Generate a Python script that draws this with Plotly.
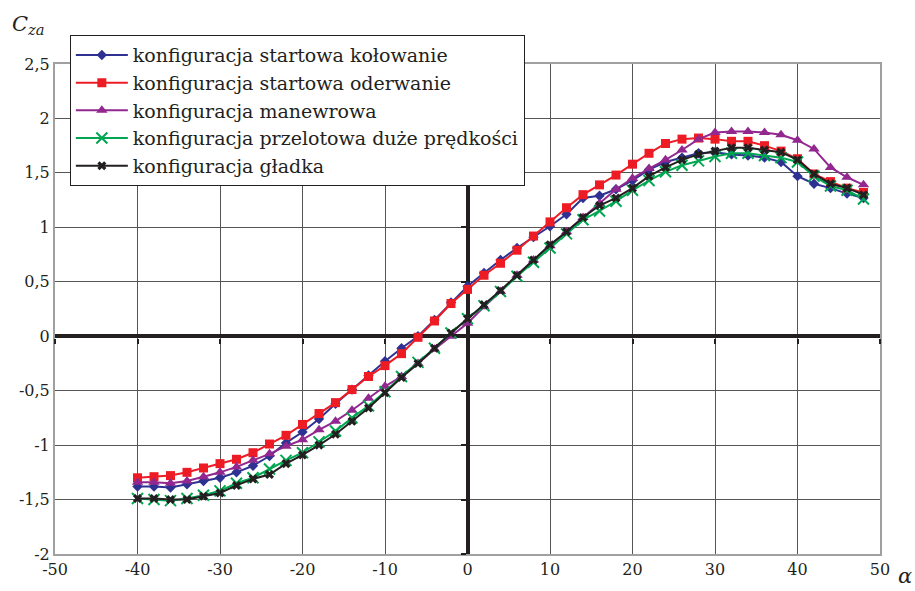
import plotly.graph_objects as go

alpha = list(range(-40, 50, 2))

kolowanie = [-1.38, -1.38, -1.39, -1.36, -1.33, -1.30, -1.25, -1.19, -1.10, -0.98,
             -0.88, -0.76, -0.62, -0.49, -0.36, -0.23, -0.11, 0.00, 0.15, 0.31,
             0.46, 0.58, 0.70, 0.81, 0.91, 1.01, 1.12, 1.27, 1.29, 1.35,
             1.43, 1.53, 1.60, 1.64, 1.68, 1.69, 1.67, 1.66, 1.64, 1.60,
             1.47, 1.40, 1.36, 1.31, 1.27]
oderwanie = [-1.30, -1.29, -1.28, -1.25, -1.21, -1.17, -1.13, -1.07, -0.99, -0.91,
             -0.81, -0.71, -0.61, -0.49, -0.37, -0.27, -0.16, -0.01, 0.14, 0.30,
             0.43, 0.56, 0.67, 0.79, 0.92, 1.05, 1.18, 1.30, 1.39, 1.48,
             1.58, 1.68, 1.77, 1.81, 1.82, 1.81, 1.79, 1.79, 1.75, 1.70,
             1.63, 1.49, 1.42, 1.36, 1.32]
manewrowa = [-1.34, -1.34, -1.35, -1.33, -1.29, -1.25, -1.20, -1.14, -1.08, -1.01,
             -0.95, -0.86, -0.78, -0.68, -0.57, -0.46, -0.37, -0.25, -0.12, 0.00,
             0.12, 0.27, 0.41, 0.56, 0.70, 0.83, 0.96, 1.09, 1.22, 1.35,
             1.45, 1.54, 1.62, 1.71, 1.81, 1.87, 1.88, 1.88, 1.87, 1.85,
             1.80, 1.72, 1.55, 1.46, 1.39]
przelotowa = [-1.49, -1.50, -1.51, -1.49, -1.46, -1.42, -1.35, -1.30, -1.22, -1.14,
              -1.07, -0.97, -0.87, -0.75, -0.64, -0.51, -0.37, -0.24, -0.11, 0.03,
              0.16, 0.28, 0.41, 0.55, 0.68, 0.81, 0.94, 1.07, 1.15, 1.24,
              1.34, 1.43, 1.51, 1.57, 1.61, 1.65, 1.68, 1.68, 1.66, 1.64,
              1.60, 1.47, 1.38, 1.34, 1.26]
gladka = [-1.49, -1.49, -1.50, -1.50, -1.47, -1.44, -1.37, -1.31, -1.27, -1.17,
          -1.09, -1.00, -0.90, -0.78, -0.66, -0.52, -0.38, -0.25, -0.11, 0.03,
          0.16, 0.29, 0.42, 0.56, 0.70, 0.84, 0.96, 1.09, 1.20, 1.27,
          1.36, 1.47, 1.55, 1.62, 1.67, 1.70, 1.73, 1.73, 1.71, 1.69,
          1.62, 1.49, 1.40, 1.36, 1.30]

series_names = ["konfiguracja startowa kołowanie", "konfiguracja startowa oderwanie",
                "konfiguracja manewrowa", "konfiguracja przelotowa duże prędkości",
                "konfiguracja gładka"]

x_ticks = [-50, -40, -30, -20, -10, 0, 10, 20, 30, 40, 50]
y_ticks = [-2, -1.5, -1, -0.5, 0, 0.5, 1, 1.5, 2, 2.5]
y_tick_labels = ["-2", "-1,5", "-1", "-0,5", "0", "0,5", "1", "1,5", "2", "2,5"]

FONT = "DejaVu Serif"

fig = go.Figure()
styles = [
    ("#2e3192", dict(symbol="diamond", size=8)),
    ("#ed1c24", dict(symbol="square", size=9)),
    ("#92278f", dict(symbol="triangle-up", size=10)),
    ("#00a651", dict(symbol="x-thin-open", size=11, line=dict(width=2, color="#00a651"))),
    ("#231f20", dict(symbol="x", size=8)),
]
for name, ys, (col, mk) in zip(series_names, [kolowanie, oderwanie, manewrowa, przelotowa, gladka], styles):
    fig.add_trace(go.Scatter(x=alpha, y=ys, name=name, mode="lines+markers",
                             line=dict(color=col, width=2),
                             marker=dict(color=col, **mk)))

# dummy trace for tick axes at zero
fig.add_trace(go.Scatter(x=[None], y=[None], xaxis="x2", yaxis="y2", showlegend=False, hoverinfo="skip"))

fig.update_layout(
    width=915, height=591,
    margin=dict(l=55, r=35, t=64, b=33),
    paper_bgcolor="white", plot_bgcolor="white",
    font=dict(family=FONT, size=16, color="#231f20"),
    showlegend=True,
    legend=dict(x=0.018, y=1.059, xanchor="left", yanchor="top",
                bgcolor="white", bordercolor="#231f20", borderwidth=1,
                font=dict(family=FONT, size=19, color="#231f20"),
                itemwidth=52, tracegroupgap=0),
    xaxis=dict(range=[-50, 50], tickvals=x_ticks, ticktext=[str(v) for v in x_ticks],
               showgrid=True, gridcolor="#555", gridwidth=1,
               zeroline=True, zerolinecolor="#231f20", zerolinewidth=4,
               showline=True, mirror=True, linecolor="#a0a0a0", linewidth=2,
               ticks="", tickfont=dict(family=FONT, size=16)),
    yaxis=dict(range=[-2, 2.5], tickvals=y_ticks, ticktext=y_tick_labels,
               showgrid=True, gridcolor="#555", gridwidth=1,
               zeroline=True, zerolinecolor="#231f20", zerolinewidth=4,
               showline=True, mirror=True, linecolor="#a0a0a0", linewidth=2,
               ticks="", tickfont=dict(family=FONT, size=16)),
    xaxis2=dict(range=[-50, 50], overlaying="x", anchor="free", position=(0 - (-2)) / 4.5 - 0.004,
                tickvals=x_ticks, ticks="outside", ticklen=5, tickwidth=2, tickcolor="#231f20",
                showticklabels=False, showgrid=False, zeroline=False, showline=False),
    yaxis2=dict(range=[-2, 2.5], overlaying="y", anchor="free", position=0.5 - 0.002,
                tickvals=y_ticks, ticks="outside", ticklen=5, tickwidth=2, tickcolor="#231f20",
                showticklabels=False, showgrid=False, zeroline=False, showline=False),
    annotations=[
        dict(text="<i>C</i><sub><i>za</i></sub>", xref="paper", yref="paper",
             x=-0.055, y=1.079, xanchor="left", yanchor="middle", showarrow=False,
             font=dict(family=FONT, size=21, color="#231f20")),
        dict(text="<i>α</i>", xref="paper", yref="paper",
             x=1.030, y=-0.044, xanchor="center", yanchor="middle", showarrow=False,
             font=dict(family=FONT, size=21, color="#231f20")),
    ],
)

fig.write_html("out.html")
